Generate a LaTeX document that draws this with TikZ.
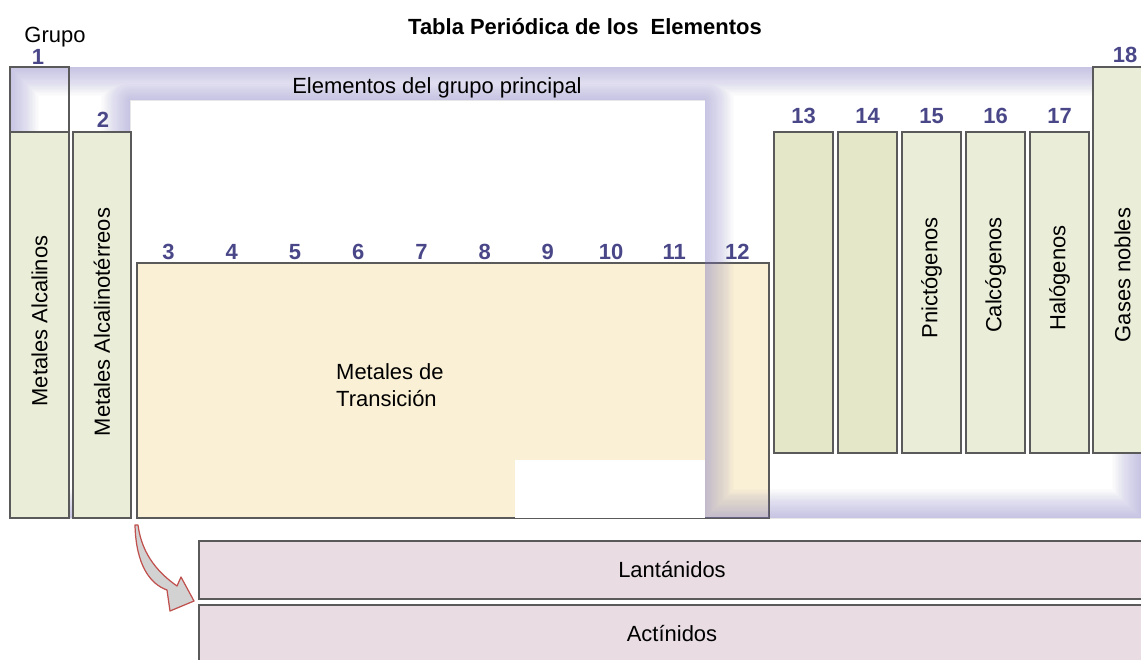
\documentclass[tikz,border=0pt]{standalone}
\usepackage{fontspec}
\setmainfont{Liberation Sans}
\definecolor{cellg}{HTML}{EAEDD8}
\definecolor{cellgd}{HTML}{E4E8C8}
\definecolor{cream}{HTML}{FAF0D6}
\definecolor{rose}{HTML}{E9DCE2}
\definecolor{edge}{HTML}{5A5A5A}
\definecolor{numc}{HTML}{4A4789}
\definecolor{glowc}{HTML}{8F8BCB}
\definecolor{arrowred}{HTML}{C0504D}
\usetikzlibrary{positioning}

\begin{document}
\begin{tikzpicture}[x=0.02cm, y=-0.02cm,
  cell/.style={rectangle, draw=edge, line width=0.8pt, inner sep=0pt},
  num/.style={font={\fontsize{12.5}{15}\selectfont\bfseries}, text=numc},
  lbl/.style={font={\fontsize{12.5}{15}\selectfont}, text=black},
]
\clip (0,0) rectangle (1141,659);
\fill[white] (0,0) rectangle (1141,659);

\node[cell, fill=cream, minimum width=12.64cm, minimum height=5.1cm] (trans) at (453,390.5) {};
\fill[white] (515,460) rectangle (705,518);

\begin{scope}
\clip (10,67) -- (1141,67) -- (1141,518) -- (705,518) -- (705,100) -- (130,100) -- (130,518) -- (10,518) -- cycle;
\foreach \w in {1,...,24}
  \draw[glowc, opacity=0.025, line width=\w*0.048cm, line join=round] (10,67) -- (1141,67) -- (1141,518) -- (705,518) -- (705,100) -- (130,100) -- (130,518) -- (10,518) -- cycle;
\end{scope}
\draw[edge, line width=0.8pt] (trans.north east) -- (trans.south east) -- (trans.south west);

\node[cell, minimum width=1.18cm, minimum height=1.3cm] (g1top) at (39.5,99.5) {};
\node[cell, fill=cellg, minimum width=1.18cm, minimum height=7.72cm] (g1) at (39.5,325) {};
\node[cell, fill=cellg, minimum width=1.16cm, minimum height=7.72cm] (g2) at (102,325) {};
\node[cell, fill=cellgd, minimum width=1.18cm, minimum height=6.42cm] (g13) at (803.5,292.5) {};
\node[cell, fill=cellgd, minimum width=1.18cm, minimum height=6.42cm] (g14) at (867.5,292.5) {};
\node[cell, fill=cellg, minimum width=1.18cm, minimum height=6.42cm] (g15) at (931.5,292.5) {};
\node[cell, fill=cellg, minimum width=1.18cm, minimum height=6.42cm] (g16) at (995.5,292.5) {};
\node[cell, fill=cellg, minimum width=1.18cm, minimum height=6.42cm] (g17) at (1059.5,292.5) {};
\node[cell, fill=cellg, minimum width=1.18cm, minimum height=7.72cm] (g18) at (1122.5,260) {};

\node[cell, fill=rose, minimum width=18.92cm, minimum height=1.16cm, lbl] (lan) at (672,570) {Lantánidos};
\node[cell, fill=rose, minimum width=18.92cm, minimum height=1.16cm, lbl] (act) at (672,634) {Actínidos};

\node[lbl, font={\fontsize{12.5}{15}\selectfont\bfseries}] (title) at (585,27) {Tabla Periódica de los~ Elementos};
\node[lbl] (grupo) at (55,37) {Grupo};
\node[lbl] (principal) at (437,88) {Elementos del grupo principal};
\node[lbl, align=left, anchor=west] (translbl) at (330,385) {Metales de\\Transición};

\node[lbl, rotate=90] (alc) at (39.5,321) {Metales Alcalinos};
\node[lbl, rotate=90] (alct) at (102,322) {Metales Alcalinotérreos};
\node[lbl, rotate=90] (pnic) at (931.5,278) {Pnictógenos};
\node[lbl, rotate=90] (calc) at (995.5,275) {Calcógenos};
\node[lbl, rotate=90] (halo) at (1059.5,278) {Halógenos};
\node[lbl, rotate=90] (nobl) at (1122.5,275) {Gases nobles};

\node[num] (n1) at (38,57) {1};
\node[num] (n2) at (103,120) {2};
\foreach \n [count=\i from 0] in {3,...,12}
  \node[num] (n\n) at (168.6+63.2*\i,252) {\n};
\foreach \n in {13,...,17}
  \node[num] (n\n) at ([yshift=0.3cm]g\n.north) {\n};
\node[num] (n18) at (1125,55) {18};

\filldraw[draw=arrowred, fill=gray!35, line width=0.7pt, line join=round]
  (135,525) .. controls (136,565) and (150,584) .. (167,590)
  -- (170,611) -- (194,601) -- (181,577) -- (177,586)
  .. controls (160,574) and (142,556) .. (138,525) -- cycle;
\end{tikzpicture}
\end{document}
